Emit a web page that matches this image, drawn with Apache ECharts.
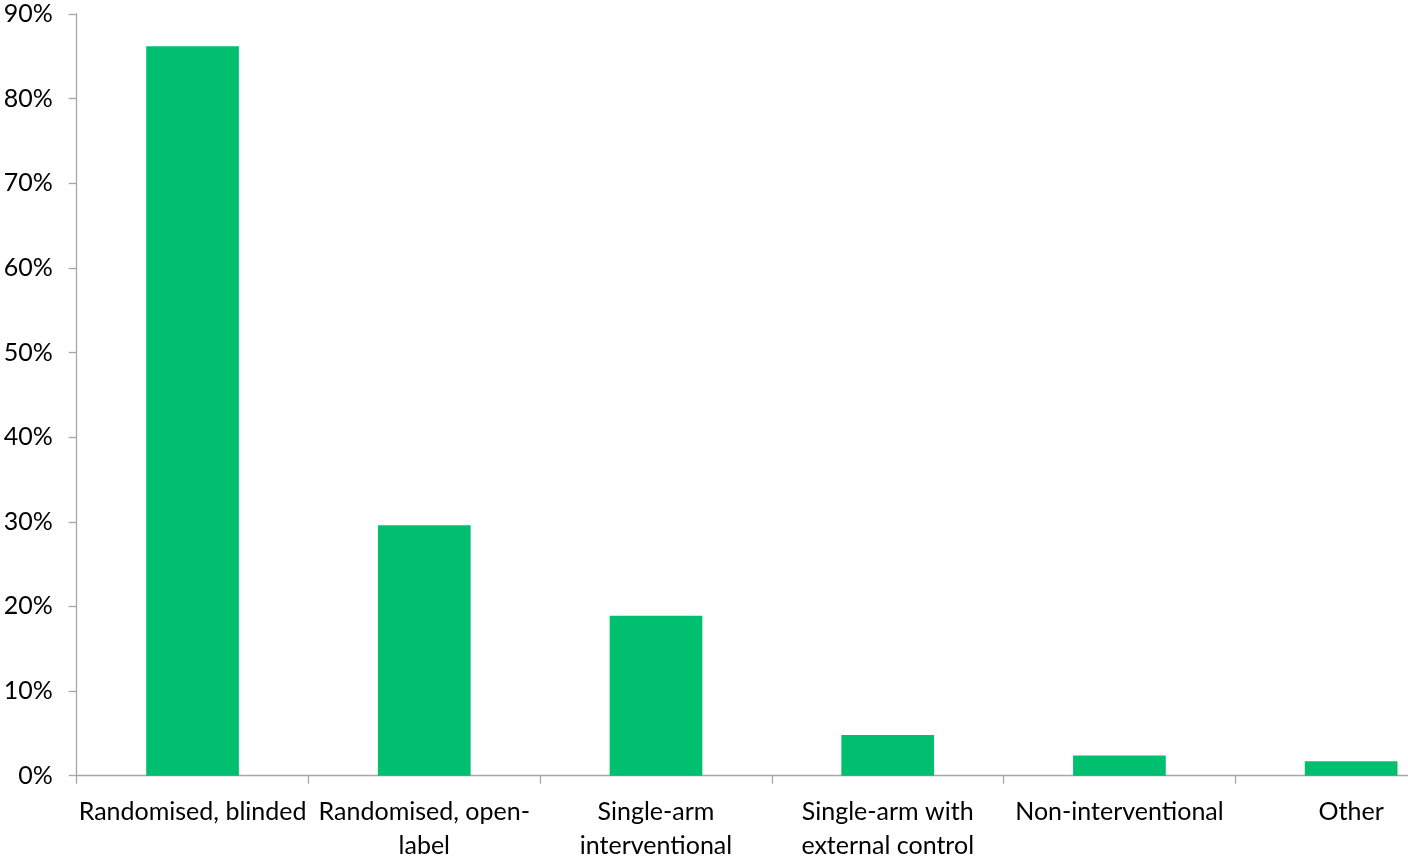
<!DOCTYPE html>
<html>
<head>
<meta charset="utf-8">
<script src="https://cdn.jsdelivr.net/npm/echarts@6/dist/echarts.min.js"></script>
<style>
html,body{margin:0;padding:0;background:#fff;}
#chart{width:1408px;height:861px;}
</style>
</head>
<body>
<div id="chart"></div>
<script>
const categories = ["Randomised, blinded", "Randomised, open-label", "Single-arm interventional", "Single-arm with external control", "Non-interventional", "Other"];
const tickLabels = ["Randomised, blinded", "Randomised, open-\nlabel", "Single-arm\ninterventional", "Single-arm with\nexternal control", "Non-interventional", "Other"];
const values = [86.2, 29.6, 18.9, 4.8, 2.4, 1.7];
const yTicks = [0, 10, 20, 30, 40, 50, 60, 70, 80, 90];

const chart = echarts.init(document.getElementById('chart'), null, {renderer: 'canvas'});
const FONT = 'Lato';
chart.setOption({
  animation: false,
  backgroundColor: '#ffffff',
  grid: {left: 76.7, right: -59, top: 14, bottom: 85.3, containLabel: false, outerBoundsMode: 'none'},
  xAxis: {
    type: 'category',
    data: categories,
    boundaryGap: true,
    axisLine: {show: true, lineStyle: {color: '#a6a6a6', width: 1.3}},
    axisTick: {show: true, length: 8, lineStyle: {color: '#a6a6a6', width: 1.3}},
    axisLabel: {
      interval: 0,
      color: '#000000',
      fontFamily: FONT,
      fontSize: 25,
      lineHeight: 34,
      margin: 19,
      formatter: function (v, i) { return tickLabels[i]; }
    }
  },
  yAxis: {
    type: 'value',
    min: yTicks[0],
    max: yTicks[yTicks.length - 1],
    interval: 10,
    splitLine: {show: false},
    axisLine: {show: true, lineStyle: {color: '#a6a6a6', width: 1.3}},
    axisTick: {show: true, length: 8, lineStyle: {color: '#a6a6a6', width: 1.3}},
    axisLabel: {
      color: '#000000',
      fontFamily: FONT,
      fontSize: 25,
      margin: 24,
      formatter: function (v) { return v + '%'; }
    }
  },
  series: [{
    type: 'bar',
    data: values,
    barWidth: '40%',
    itemStyle: {color: '#00bf6f'}
  }]
});
</script>
</body>
</html>
